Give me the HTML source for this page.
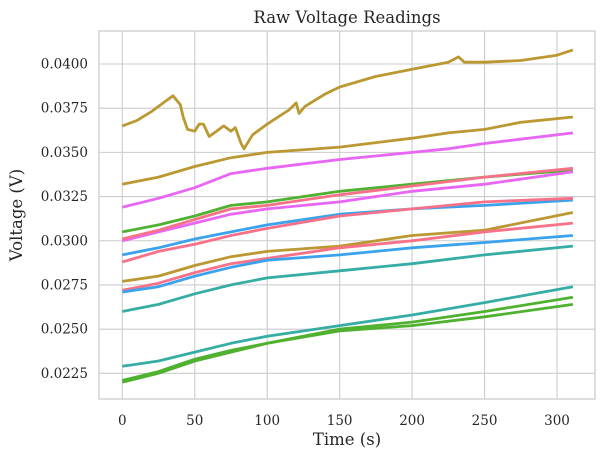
<!DOCTYPE html>
<html><head><meta charset="utf-8"><style>
body{margin:0;background:#fff;}
svg{display:block;font-family:"DejaVu Serif","Liberation Serif",serif;}
</style></head><body>
<svg id="chart" width="605" height="460" viewBox="0 0 605 460">
<rect x="99" y="31" width="496" height="368" fill="#fff" stroke="#cccccc" stroke-width="1.3"/>
<g id="grid"></g><g id="series"></g><g id="ticks"></g>
<text x="347" y="23" text-anchor="middle" font-size="16.5" fill="#262626">Raw Voltage Readings</text>
<text x="347" y="445" text-anchor="middle" font-size="16.5" fill="#262626">Time (s)</text>
<text transform="translate(22,215) rotate(-90)" text-anchor="middle" font-size="16.5" fill="#262626">Voltage (V)</text>
</svg>
<script>
const xTicks=[0,50,100,150,200,250,300];
const yTicks=[0.0225,0.0250,0.0275,0.0300,0.0325,0.0350,0.0375,0.0400];
const yTickLabels=["0.0225","0.0250","0.0275","0.0300","0.0325","0.0350","0.0375","0.0400"];
const gold1T=[0,10,20,25,35,40,42,45,50,53,56,60,65,70,75,78,82,84,90,100,115,120,122,126,140,150,175,200,225,232,236,250,275,300,311];
const gold1V=[0.0365,0.0368,0.0373,0.0376,0.0382,0.0377,0.0370,0.0363,0.0362,0.0366,0.0366,0.0359,0.0362,0.0365,0.0362,0.0364,0.0355,0.0352,0.0360,0.0366,0.0374,0.0378,0.0372,0.0376,0.0383,0.0387,0.0393,0.0397,0.0401,0.0404,0.0401,0.0401,0.0402,0.0405,0.0408];
const gold2T=[0,25,50,75,100,150,200,225,250,275,311];
const gold2V=[0.0332,0.0336,0.0342,0.0347,0.0350,0.0353,0.0358,0.0361,0.0363,0.0367,0.0370];
const mag1T=[0,25,50,75,100,150,200,225,250,311];
const mag1V=[0.0319,0.0324,0.0330,0.0338,0.0341,0.0346,0.0350,0.0352,0.0355,0.0361];
const std=[0,25,50,75,100,150,200,250,311];
const green1V=[0.0305,0.0309,0.0314,0.0320,0.0322,0.0328,0.0332,0.0336,0.0340];
const pink1V=[0.0301,0.0306,0.0312,0.0318,0.0320,0.0326,0.0331,0.0336,0.0341];
const mag2V=[0.0300,0.0305,0.0310,0.0315,0.0318,0.0322,0.0328,0.0332,0.0339];
const blue1V=[0.0292,0.0296,0.0301,0.0305,0.0309,0.0315,0.0318,0.0320,0.0323];
const pink2V=[0.0288,0.0294,0.0298,0.0303,0.0307,0.0314,0.0318,0.0322,0.0324];
const gold3V=[0.0277,0.0280,0.0286,0.0291,0.0294,0.0297,0.0303,0.0306,0.0316];
const pink3V=[0.0272,0.0276,0.0282,0.0287,0.0290,0.0296,0.0300,0.0305,0.0310];
const blue2V=[0.0271,0.0274,0.0280,0.0285,0.0289,0.0292,0.0296,0.0299,0.0303];
const teal1V=[0.0260,0.0264,0.0270,0.0275,0.0279,0.0283,0.0287,0.0292,0.0297];
const teal2V=[0.0229,0.0232,0.0237,0.0242,0.0246,0.0252,0.0258,0.0265,0.0274];
const green2V=[0.0221,0.0226,0.0233,0.0238,0.0242,0.0250,0.0254,0.0260,0.0268];
const green3V=[0.0220,0.0225,0.0232,0.0237,0.0242,0.0249,0.0252,0.0257,0.0264];
const seriesList=[
 ["gold-1",gold1T,gold1V,"#bb9832"],["gold-2",gold2T,gold2V,"#bb9832"],["magenta-1",mag1T,mag1V,"#e866f4"],
 ["green-1",std,green1V,"#50b131"],["magenta-2",std,mag2V,"#e866f4"],["pink-1",std,pink1V,"#f77189"],
 ["blue-1",std,blue1V,"#3ba3ec"],["pink-2",std,pink2V,"#f77189"],["gold-3",std,gold3V,"#bb9832"],
 ["pink-3",std,pink3V,"#f77189"],["blue-2",std,blue2V,"#3ba3ec"],["teal-1",std,teal1V,"#36ada4"],
 ["teal-2",std,teal2V,"#36ada4"],["green-2",std,green2V,"#50b131"],["green-3",std,green3V,"#50b131"]];
const NS="http://www.w3.org/2000/svg";
const xs=t=>122.3+t*1.449;
const ys=v=>64+(0.04-v)/0.0025*44.19;
const grid=document.getElementById('grid'),ticks=document.getElementById('ticks'),ser=document.getElementById('series');
xTicks.forEach(t=>{
 const l=document.createElementNS(NS,'line');
 l.setAttribute('x1',xs(t));l.setAttribute('x2',xs(t));l.setAttribute('y1',31);l.setAttribute('y2',399);
 l.setAttribute('stroke','#cccccc');l.setAttribute('stroke-width','1.1');
 
 
 grid.appendChild(l);
 const tx=document.createElementNS(NS,'text');
 tx.setAttribute('x',xs(t));tx.setAttribute('y',425);tx.setAttribute('text-anchor','middle');
 tx.setAttribute('font-size','13.5');tx.setAttribute('fill','#262626');tx.textContent=t;
 
 
 ticks.appendChild(tx);
});
yTicks.forEach((v,i)=>{
 const l=document.createElementNS(NS,'line');
 l.setAttribute('x1',99);l.setAttribute('x2',595);l.setAttribute('y1',ys(v));l.setAttribute('y2',ys(v));
 l.setAttribute('stroke','#cccccc');l.setAttribute('stroke-width','1.1');
 
 
 grid.appendChild(l);
 const tx=document.createElementNS(NS,'text');
 tx.setAttribute('x',88);tx.setAttribute('y',ys(v)+4.5);tx.setAttribute('text-anchor','end');
 tx.setAttribute('font-size','13.5');tx.setAttribute('fill','#262626');tx.textContent=yTickLabels[i];
 
 
 ticks.appendChild(tx);
});
seriesList.forEach(s=>{
 const p=document.createElementNS(NS,'polyline');
 p.setAttribute('points',s[1].map((t,i)=>xs(t).toFixed(1)+','+ys(s[2][i]).toFixed(1)).join(' '));
 p.setAttribute('fill','none');p.setAttribute('stroke',s[3]);p.setAttribute('stroke-width','2.8');
 p.setAttribute('stroke-linejoin','round');
 
 
 ser.appendChild(p);
});
</script>
</body></html>
